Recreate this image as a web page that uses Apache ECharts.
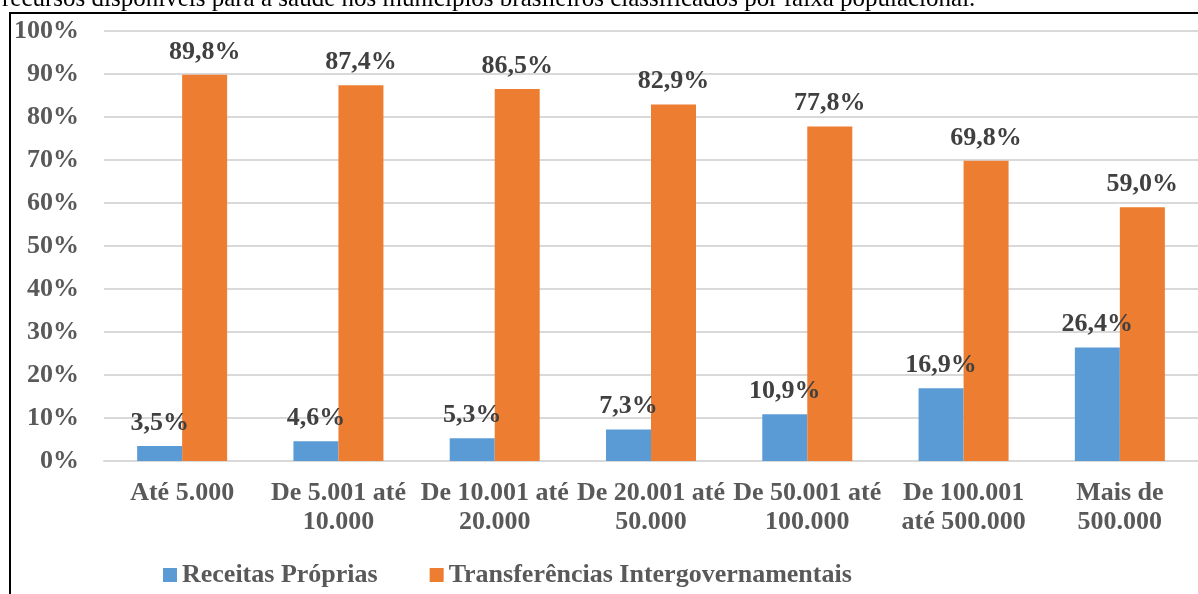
<!DOCTYPE html>
<html>
<head>
<meta charset="utf-8">
<script src="https://cdn.jsdelivr.net/npm/echarts@6/dist/echarts.min.js"></script>
<style>
  html, body { margin: 0; padding: 0; background: #fff; }
  #chart { width: 1198px; height: 594px; }
</style>
</head>
<body>
<div id="chart"></div>
<script>
var categories = [
  "Até 5.000",
  "De 5.001 até\n10.000",
  "De 10.001 até\n20.000",
  "De 20.001 até\n50.000",
  "De 50.001 até\n100.000",
  "De 100.001\naté 500.000",
  "Mais de\n500.000"
];
var receitasProprias = [3.5, 4.6, 5.3, 7.3, 10.9, 16.9, 26.4];
var transferencias = [89.8, 87.4, 86.5, 82.9, 77.8, 69.8, 59.0];
var seriesNames = ["Receitas Próprias", "Transferências Intergovernamentais"];
var caption = "recursos disponíveis para a saúde nos municípios brasileiros classificados por faixa populacional.";

var FONT = "'Liberation Serif', 'Times New Roman', serif";

function init_bar_chart(container) {
  var chartDom = document.getElementById(container);
  var myChart = echarts.init(chartDom);
  var option;

  var labelStyle = {
    show: true,
    position: "top",
    distance: 10,
    fontFamily: FONT,
    fontWeight: "bold",
    fontSize: 26,
    color: "#404040",
    formatter: function (p) {
      return p.value.toFixed(1).replace(".", ",") + "%";
    }
  };

  option = {
    animation: false,
    textStyle: { fontFamily: FONT },
    graphic: [
      {
        type: "text",
        left: 2,
        top: -13,
        style: {
          text: caption,
          font: "25px " + FONT,
          fill: "#000"
        }
      },
      {
        type: "rect",
        shape: { x: 10, y: 13, width: 1200, height: 600 },
        style: { fill: "none", stroke: "#000", lineWidth: 2 },
        z: -1
      }
    ],
    grid: {
      left: 104,
      top: 31,
      width: 1106,
      height: 430
    },
    legend: {
      bottom: 1,
      left: 158,
      itemWidth: 14,
      itemHeight: 14,
      itemGap: 52,
      icon: "rect",
      textStyle: {
        fontFamily: FONT,
        fontWeight: "bold",
        fontSize: 26,
        color: "#595959"
      },
      data: seriesNames
    },
    xAxis: {
      type: "category",
      data: categories,
      axisTick: { show: false },
      axisLine: { lineStyle: { color: "#d9d9d9", width: 2 } },
      axisLabel: {
        interval: 0,
        margin: 18,
        fontFamily: FONT,
        fontWeight: "bold",
        fontSize: 26,
        lineHeight: 29,
        color: "#595959"
      }
    },
    yAxis: {
      type: "value",
      min: 0,
      max: 100,
      interval: 10,
      axisLine: { show: false },
      axisTick: { show: false },
      splitLine: { lineStyle: { color: "#d9d9d9", width: 2 } },
      axisLabel: {
        margin: 25,
        fontFamily: FONT,
        fontWeight: "bold",
        fontSize: 26,
        color: "#595959",
        formatter: "{value}%"
      }
    },
    series: [
      {
        name: seriesNames[0],
        type: "bar",
        data: receitasProprias,
        barWidth: 45,
        barGap: "0%",
        itemStyle: { color: "#5B9BD5" },
        label: labelStyle
      },
      {
        name: seriesNames[1],
        type: "bar",
        data: transferencias,
        barWidth: 45,
        itemStyle: { color: "#ED7D31" },
        label: labelStyle
      }
    ]
  };

  option && myChart.setOption(option);
  window.addEventListener("resize", function () {
    myChart.resize();
  });
}

init_bar_chart("chart");
</script>
</body>
</html>
